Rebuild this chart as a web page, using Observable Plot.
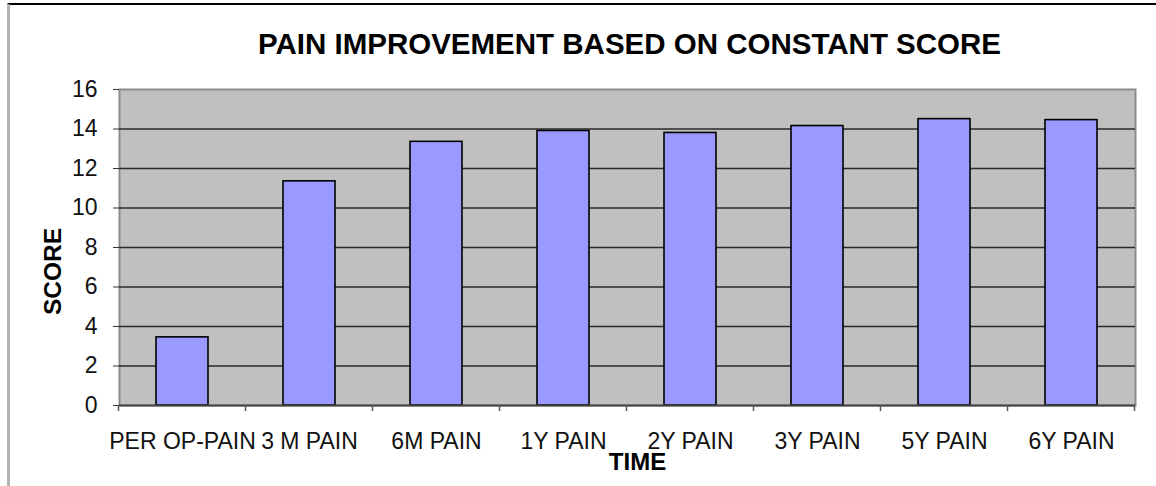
<!DOCTYPE html>
<html>
<head>
<meta charset="utf-8">
<script src="https://cdn.jsdelivr.net/npm/d3@7"></script>
<script src="https://cdn.jsdelivr.net/npm/@observablehq/plot@0.6"></script>
<style>
  html, body { margin: 0; padding: 0; background: #fff; }
  #wrap { position: relative; width: 1156px; height: 486px; overflow: hidden; font-family: "Liberation Sans", Arial, sans-serif; }
  #border { position: absolute; left: 7px; top: 3px; right: -4px; bottom: -4px; border-top: 2px solid #000; border-left: 3px solid #b4b4b4; pointer-events: none; }
  #chart { position: absolute; left: 0; top: 0; }
</style>
</head>
<body>
<div id="wrap"><div id="border"></div><div id="chart"></div></div>
<script>
const title = "PAIN IMPROVEMENT BASED ON CONSTANT SCORE";
const xLabel = "TIME";
const yLabel = "SCORE";
const categories = ["PER OP-PAIN", "3 M PAIN", "6M PAIN", "1Y PAIN", "2Y PAIN", "3Y PAIN", "5Y PAIN", "6Y PAIN"];
const scores = [3.45, 11.35, 13.35, 13.9, 13.8, 14.15, 14.5, 14.45];
const yTicks = [0, 2, 4, 6, 8, 10, 12, 14, 16];
const gridTicks = [2, 4, 6, 8, 10, 12, 14];

const data = categories.map((c, i) => ({category: c, score: scores[i]}));

function boundaryTicks(index, scales, values, dimensions) {
  const x = scales.x;
  const bw = x.bandwidth();
  const step = x.step();
  const y0 = dimensions.height - dimensions.marginBottom;
  const g = d3.create("svg:g").attr("stroke", "#555").attr("stroke-width", 1.5);
  const xs = categories.map(c => x(c) - (step - bw) / 2);
  xs.push(x(categories[categories.length - 1]) + bw + (step - bw) / 2);
  for (const px of xs) {
    g.append("line").attr("x1", px).attr("x2", px).attr("y1", y0).attr("y2", y0 + 6);
  }
  return g.node();
}

const chart = Plot.plot({
  width: 1156,
  height: 486,
  marginLeft: 119,
  marginRight: 21,
  marginTop: 89,
  marginBottom: 81,
  style: {fontFamily: "'Liberation Sans', Arial, sans-serif", color: "#111", background: "transparent"},
  x: {domain: categories, paddingInner: 0.59, paddingOuter: 0.295, label: null},
  y: {domain: [0, 16], label: null},
  marks: [
    Plot.frame({fill: "#c0c0c0", stroke: "#8c8c8c", strokeWidth: 2}),
    Plot.ruleY(gridTicks, {stroke: "#2a2a2a", strokeWidth: 1.3}),
    Plot.barY(data, {x: "category", y: "score", fill: "#9999ff", stroke: "#000", strokeWidth: 1.6}),
    Plot.ruleX([0], {frameAnchor: "left", stroke: "#444", strokeWidth: 2}),
    Plot.ruleY([0], {stroke: "#444", strokeWidth: 2}),
    Plot.axisY({ticks: yTicks, tickSize: 6, tickPadding: 16, fontSize: 23, stroke: "#333", tickFormat: d => d, label: null}),
    Plot.axisX({tickSize: 0, tickPadding: 27, fontSize: 23, label: null}),
    boundaryTicks,
    Plot.text([title], {frameAnchor: "top", dx: 2, dy: -45, fontSize: 29.5, fontWeight: "bold", fill: "#000", lineAnchor: "middle"}),
    Plot.text([yLabel], {frameAnchor: "left", dx: -66, dy: 24, rotate: -90, textAnchor: "middle", fontSize: 24.5, fontWeight: "bold", fill: "#000", lineAnchor: "middle"}),
    Plot.text([xLabel], {frameAnchor: "bottom", dx: 10, dy: 57, textAnchor: "middle", fontSize: 24, fontWeight: "bold", fill: "#000", lineAnchor: "middle"})
  ]
});
document.getElementById("chart").appendChild(chart);
</script>
</body>
</html>
